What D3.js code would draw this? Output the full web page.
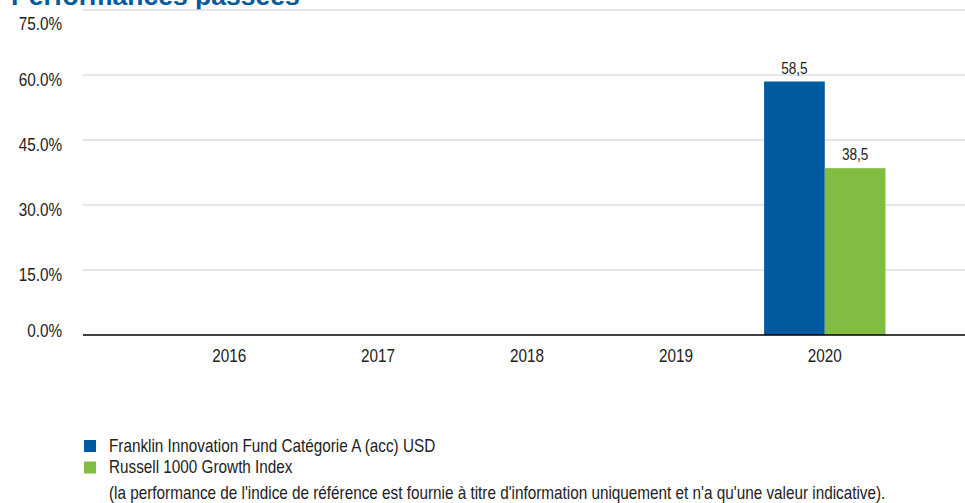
<!DOCTYPE html>
<html lang="fr">
<head>
    <meta charset="UTF-8">
    <title>Performances passées</title>
    <script src="https://d3js.org/d3.v7.min.js"></script>
    <style>
        body { margin: 0; background: #fff; }
        svg text { font-family: "Liberation Sans", Arial, sans-serif; fill: #222; }
    </style>
</head>
<body>

<div id="chart"></div>

<script>
// Data
const years = ["2016", "2017", "2018", "2019", "2020"];
const seriesNames = ["Franklin Innovation Fund Catégorie A (acc) USD", "Russell 1000 Growth Index"];
const fundValues = [null, null, null, null, 58.5];
const indexValues = [null, null, null, null, 38.5];
const yTicks = [0, 15, 30, 45, 60, 75];
const colors = ["#005a9e", "#80bd41"];
const footnote = "(la performance de l'indice de référence est fournie à titre d'information uniquement et n'a qu'une valeur indicative).";

const W = 965, H = 503;
const NARROW = 0.85; // the original uses a condensed face

const svg = d3.select("#chart")
              .append("svg")
              .attr("width", W)
              .attr("height", H);

// place a narrow text at (x, y)
function at(x, y) {
    return `translate(${x},${y}) scale(${NARROW},1)`;
}

// Title (cut off at top like the original)
svg.append("text")
   .attr("x", 11)
   .attr("y", 5)
   .style("font-weight", "bold")
   .style("font-size", "26.5px")
   .style("fill", "#005a9e")
   .text("Performances passées");

// Scales
const y = d3.scaleLinear().domain([0, 75]).range([335, 10]);
const x = d3.scaleBand().domain(years).range([155, 899]).paddingInner(0.185).paddingOuter(0.091);
const xs = d3.scaleBand().domain([0, 1]).range([0, x.bandwidth()]);

// Gridlines
svg.append("g")
   .selectAll("line")
   .data(yTicks.filter(d => d > 0))
   .join("line")
   .attr("x1", 83).attr("x2", W)
   .attr("y1", d => y(d)).attr("y2", d => y(d))
   .attr("stroke", "#dedede")
   .attr("stroke-width", 1.5);

// Y axis labels (sit just under their gridline, kept inside the plot)
svg.append("g")
   .selectAll("text")
   .data(yTicks)
   .join("text")
   .attr("transform", d => at(62, Math.max(30, Math.min(337, y(d) + 10.5))))
   .attr("text-anchor", "end")
   .style("font-size", "18px")
   .text(d => d.toFixed(1) + "%");

// Bars
const table = years.map((yr, i) => ({year: yr, values: [fundValues[i], indexValues[i]]}));
const groups = svg.append("g")
   .selectAll("g")
   .data(table)
   .join("g")
   .attr("transform", d => `translate(${x(d.year)},0)`);

groups.selectAll("rect")
   .data(d => d.values.map((v, k) => ({k, v})).filter(e => e.v != null))
   .join("rect")
   .attr("x", e => xs(e.k))
   .attr("width", xs.bandwidth())
   .attr("y", e => y(e.v))
   .attr("height", e => y(0) - y(e.v))
   .attr("fill", e => colors[e.k]);

groups.selectAll("text.val")
   .data(d => d.values.map((v, k) => ({k, v})).filter(e => e.v != null))
   .join("text")
   .attr("class", "val")
   .attr("transform", e => at(xs(e.k) + xs.bandwidth() / 2, y(e.v) - 8))
   .attr("text-anchor", "middle")
   .style("font-size", "16px")
   .text(e => e.v.toFixed(1).replace(".", ","));

// X axis line
svg.append("line")
   .attr("x1", 83).attr("x2", W)
   .attr("y1", y(0)).attr("y2", y(0))
   .attr("stroke", "#000")
   .attr("stroke-width", 1.5);

// X labels
svg.append("g")
   .selectAll("text")
   .data(years)
   .join("text")
   .attr("transform", d => at(x(d) + x.bandwidth() / 2, 362))
   .attr("text-anchor", "middle")
   .style("font-size", "18px")
   .text(d => d);

// Legend
const legend = svg.append("g");
seriesNames.forEach((name, i) => {
    const row = legend.append("g").attr("transform", `translate(84, ${440 + i * 21.5})`);
    row.append("rect")
       .attr("width", 12).attr("height", 12)
       .attr("fill", colors[i]);
    row.append("text")
       .attr("transform", at(25, 11.5))
       .style("font-size", "18px")
       .text(name);
});

svg.append("text")
   .attr("transform", at(109, 499))
   .style("font-size", "18px")
   .text(footnote);
</script>

</body>
</html>
